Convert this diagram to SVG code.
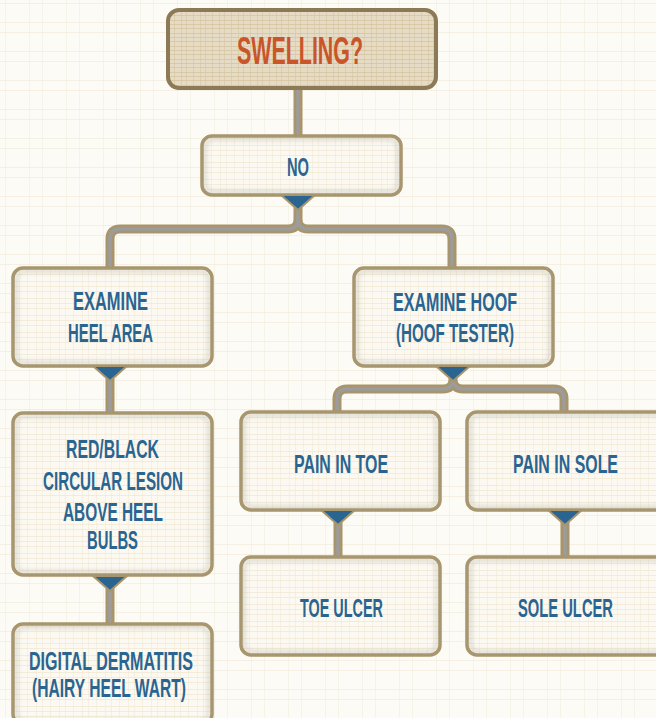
<svg xmlns="http://www.w3.org/2000/svg" width="656" height="718" viewBox="0 0 656 718">
<defs>
<pattern id="linen" width="37" height="29" patternUnits="userSpaceOnUse">
<rect width="37" height="29" fill="#fcfbf6"/>
<path d="M0 3.5H37M0 22.5H37" stroke="#efe6d2" stroke-width="1" opacity="0.5"/>
<path d="M5.5 0V29M29.5 0V29" stroke="#f0e9d8" stroke-width="1" opacity="0.45"/>
</pattern>
<pattern id="linen2" width="23" height="17" patternUnits="userSpaceOnUse">
<rect width="23" height="17" fill="#fbf9f1"/>
<path d="M0 2.5H23M0 9.5H23M0 14.5H23" stroke="#ebe0c4" stroke-width="1" opacity="0.5"/>
<path d="M4.5 0V17M13.5 0V17M19.5 0V17" stroke="#ede4cd" stroke-width="1" opacity="0.45"/>
</pattern>
<pattern id="burlap" width="19" height="13" patternUnits="userSpaceOnUse">
<rect width="19" height="13" fill="#e6dcc6"/>
<path d="M0 2.5H19M0 7.5H19M0 11.5H19" stroke="#cdb991" stroke-width="1" opacity="0.55"/>
<path d="M3.5 0V13M10.5 0V13M15.5 0V13" stroke="#d3c3a0" stroke-width="1" opacity="0.55"/>
</pattern>
<filter id="inner" x="-5%" y="-5%" width="110%" height="110%">
<feGaussianBlur stdDeviation="2"/>
</filter>
</defs>
<style>
.box{fill:url(#linen2);stroke:#a8956b;stroke-width:3.5}
.shade{fill:none;stroke:#a9a49a;stroke-width:4;opacity:0.35;filter:url(#inner)}
.top{fill:url(#burlap);stroke:#8c7a57;stroke-width:4}
.t{font-family:"Liberation Sans Narrow","Liberation Sans","DejaVu Sans Condensed",sans-serif;font-weight:bold;font-size:25px;fill:#2a6592;text-anchor:middle}
.tt{font-family:"Liberation Sans Narrow","Liberation Sans",sans-serif;font-weight:bold;font-size:38px;fill:#c9552a;text-anchor:middle}
.co{fill:none;stroke:#a8956b;stroke-width:9;stroke-linejoin:round}
.ci{fill:none;stroke:#9c9c9c;stroke-width:3.5;stroke-linejoin:round}
.tri{fill:#2a6592;stroke:#a8956b;stroke-width:2;stroke-linejoin:round}
</style>
<rect width="656" height="718" fill="url(#linen)"/>

<g id="connectors">
<path class="co" d="M298 86V137M298 205V219Q298 229 288 229H120Q110 229 110 239V270M298 219Q298 229 308 229H442Q452 229 452 239V270M110 376V415M110 586V625M453 376V379Q453 389 443 389H347Q337 389 337 399V414M453 379Q453 389 463 389H554Q564 389 564 399V414M338 520V559M565 520V559"/>
<path class="ci" d="M298 86V137M298 205V219Q298 229 288 229H120Q110 229 110 239V270M298 219Q298 229 308 229H442Q452 229 452 239V270M110 376V415M110 586V625M453 376V379Q453 389 443 389H347Q337 389 337 399V414M453 379Q453 389 463 389H554Q564 389 564 399V414M338 520V559M565 520V559"/>
</g>

<g id="swelling">
<rect class="top" x="168" y="10" width="268" height="78" rx="11"/>
<text class="tt" x="300" y="64" textLength="126" lengthAdjust="spacingAndGlyphs">SWELLING?</text>
</g>

<g id="no">
<rect class="box" x="202" y="136" width="199" height="59" rx="10"/>
<rect class="shade" x="205" y="139" width="193" height="53" rx="8"/>
<path class="tri" d="M281 195H315L298 210Z"/>
<text class="t" x="298" y="176" font-size="26" textLength="22" lengthAdjust="spacingAndGlyphs">NO</text>
</g>

<g id="heel">
<rect class="box" x="13" y="268" width="199" height="98" rx="10"/>
<rect class="shade" x="16" y="271" width="193" height="92" rx="8"/>
<path class="tri" d="M93 366H127L110 381Z"/>
<text class="t" x="110.5" y="310" textLength="75" lengthAdjust="spacingAndGlyphs">EXAMINE</text>
<text class="t" x="110.5" y="342" textLength="85" lengthAdjust="spacingAndGlyphs">HEEL AREA</text>
</g>

<g id="hoof">
<rect class="box" x="354" y="268" width="199" height="98" rx="10"/>
<rect class="shade" x="357" y="271" width="193" height="92" rx="8"/>
<path class="tri" d="M436 366H470L453 381Z"/>
<text class="t" x="455" y="311" textLength="124" lengthAdjust="spacingAndGlyphs">EXAMINE HOOF</text>
<text class="t" x="455" y="342" textLength="118" lengthAdjust="spacingAndGlyphs">(HOOF TESTER)</text>
</g>

<g id="lesion">
<rect class="box" x="13" y="413" width="199" height="162" rx="10"/>
<rect class="shade" x="16" y="416" width="193" height="156" rx="8"/>
<path class="tri" d="M93 576H127L110 591Z"/>
<text class="t" x="112.5" y="458" textLength="93" lengthAdjust="spacingAndGlyphs">RED/BLACK</text>
<text class="t" x="113" y="490" textLength="140" lengthAdjust="spacingAndGlyphs">CIRCULAR LESION</text>
<text class="t" x="113" y="521" textLength="100" lengthAdjust="spacingAndGlyphs">ABOVE HEEL</text>
<text class="t" x="112.5" y="549" textLength="51" lengthAdjust="spacingAndGlyphs">BULBS</text>
</g>

<g id="dermatitis">
<rect class="box" x="13" y="624" width="199" height="100" rx="10"/>
<rect class="shade" x="16" y="627" width="193" height="94" rx="8"/>
<text class="t" x="111" y="670" textLength="164" lengthAdjust="spacingAndGlyphs">DIGITAL DERMATITIS</text>
<text class="t" x="109" y="697" textLength="154" lengthAdjust="spacingAndGlyphs">(HAIRY HEEL WART)</text>
</g>

<g id="paintoe">
<rect class="box" x="241" y="412" width="199" height="98" rx="10"/>
<rect class="shade" x="244" y="415" width="193" height="92" rx="8"/>
<path class="tri" d="M321 510H355L338 525Z"/>
<text class="t" x="341" y="473" textLength="94" lengthAdjust="spacingAndGlyphs">PAIN IN TOE</text>
</g>

<g id="painsole">
<rect class="box" x="467" y="412" width="199" height="98" rx="10"/>
<rect class="shade" x="470" y="415" width="193" height="92" rx="8"/>
<path class="tri" d="M548 510H582L565 525Z"/>
<text class="t" x="565.5" y="473" textLength="105" lengthAdjust="spacingAndGlyphs">PAIN IN SOLE</text>
</g>

<g id="toeulcer">
<rect class="box" x="241" y="557" width="199" height="98" rx="10"/>
<rect class="shade" x="244" y="560" width="193" height="92" rx="8"/>
<text class="t" x="341.5" y="617" textLength="83" lengthAdjust="spacingAndGlyphs">TOE ULCER</text>
</g>

<g id="soleulcer">
<rect class="box" x="467" y="557" width="199" height="98" rx="10"/>
<rect class="shade" x="470" y="560" width="193" height="92" rx="8"/>
<text class="t" x="565.5" y="617" textLength="95" lengthAdjust="spacingAndGlyphs">SOLE ULCER</text>
</g>
</svg>
